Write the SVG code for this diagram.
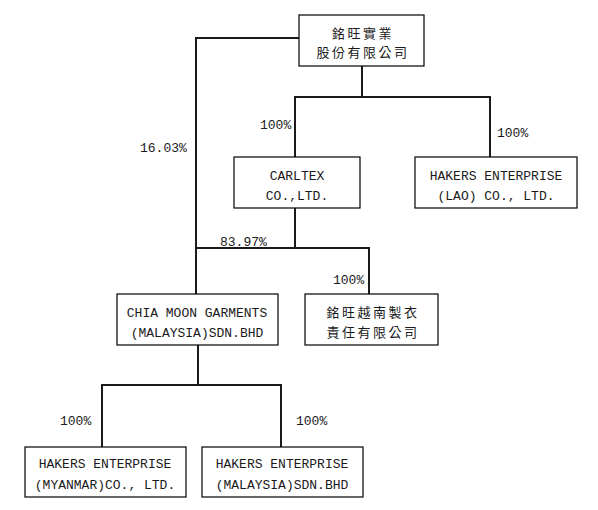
<svg xmlns="http://www.w3.org/2000/svg" width="598" height="510" viewBox="0 0 598 510">
<style>
.box{fill:#fff;stroke:#000;stroke-width:1.2}
.t{font-family:"Liberation Mono",monospace;font-size:13px;fill:#1a1a1a;text-anchor:middle}
.c{font-family:"Noto Sans CJK TC","Noto Sans CJK SC",sans-serif;font-size:13px;fill:#1a1a1a;text-anchor:middle;letter-spacing:2.5px}
.l{font-family:"Liberation Mono",monospace;font-size:13px;fill:#1a1a1a}
.ln{fill:none;stroke:#1a1a1a;stroke-width:2}
</style>
<rect width="598" height="510" fill="#fff"/>
<g id="connectors">
<polyline class="ln" points="299,38 196,38 196,294"/>
<line class="ln" x1="362" y1="66" x2="362" y2="97"/>
<polyline class="ln" points="295,157 295,97 490,97 490,157"/>
<polyline class="ln" points="295,208 295,248"/>
<polyline class="ln" points="196,248 369,248 369,294"/>
<line class="ln" x1="198" y1="345" x2="198" y2="385"/>
<polyline class="ln" points="102,447 102,385 281,385 281,447"/>
</g>
<g id="labels">
<text class="l" x="260" y="129" fill="#4a1010">100%</text>
<text class="l" x="497" y="137">100%</text>
<text class="l" x="140" y="152">16.03%</text>
<text class="l" x="220" y="245.5">83.97%</text>
<text class="l" x="333" y="284">100%</text>
<text class="l" x="60" y="425">100%</text>
<text class="l" x="296" y="425">100%</text>
</g>
<g id="n-top">
<rect class="box" x="299" y="15" width="125" height="51"/>
<text class="c" x="363" y="38">銘旺實業</text>
<text class="c" x="363" y="57">股份有限公司</text>
</g>
<g id="n-carltex">
<rect class="box" x="234" y="157" width="126" height="51"/>
<text class="t" x="297" y="180">CARLTEX</text>
<text class="t" x="297" y="200">CO.,LTD.</text>
</g>
<g id="n-lao">
<rect class="box" x="415" y="157" width="162" height="51"/>
<text class="t" x="496" y="180">HAKERS ENTERPRISE</text>
<text class="t" x="496" y="200">(LAO) CO., LTD.</text>
</g>
<g id="n-chiamoon">
<rect class="box" x="117" y="294" width="161" height="51"/>
<text class="t" x="197" y="317">CHIA MOON GARMENTS</text>
<text class="t" x="197" y="337">(MALAYSIA)SDN.BHD</text>
</g>
<g id="n-vietnam">
<rect class="box" x="305" y="294" width="133" height="51"/>
<text class="c" x="373" y="317">銘旺越南製衣</text>
<text class="c" x="373" y="337">責任有限公司</text>
</g>
<g id="n-myanmar">
<rect class="box" x="25" y="447" width="161" height="50"/>
<text class="t" x="105" y="468">HAKERS ENTERPRISE</text>
<text class="t" x="105" y="489">(MYANMAR)CO., LTD.</text>
</g>
<g id="n-malaysia">
<rect class="box" x="202" y="447" width="161" height="50"/>
<text class="t" x="282" y="468">HAKERS ENTERPRISE</text>
<text class="t" x="282" y="489">(MALAYSIA)SDN.BHD</text>
</g>
</svg>
